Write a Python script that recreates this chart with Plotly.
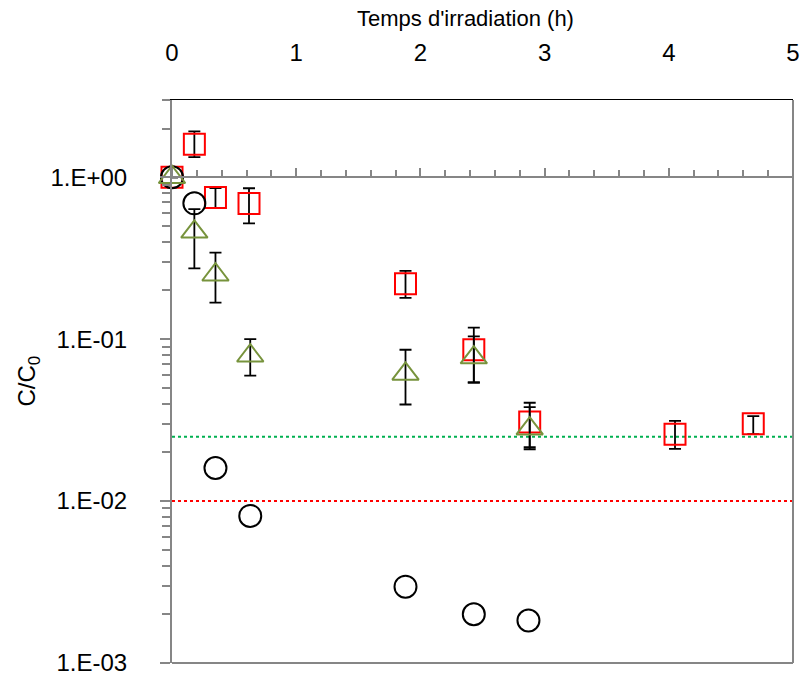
import numpy as np
import plotly.graph_objects as go

# données
t_circ = [0, 0.18, 0.35, 0.63, 1.88, 2.43, 2.87]
c_circ = [1.0, 0.69, 0.016, 0.0081, 0.00296, 0.0020, 0.00183]

t_tri = [0, 0.18, 0.35, 0.63, 1.88, 2.43, 2.88]
c_tri = [1.0, 0.46, 0.25, 0.079, 0.061, 0.077, 0.028]
tri_hi = [1.0, 0.636, 0.342, 0.100, 0.086, 0.104, 0.038]
tri_lo = [1.0, 0.274, 0.168, 0.0596, 0.0395, 0.054, 0.0215]

t_sq = [0, 0.18, 0.35, 0.62, 1.88, 2.43, 2.88, 4.05, 4.68]
c_sq = [1.0, 1.6, 0.75, 0.689, 0.22, 0.086, 0.0308, 0.0259, 0.0300]
sq_hi = [1.0, 1.92, 0.856, 0.855, 0.264, 0.118, 0.0405, 0.0313, 0.0335]
sq_lo = [1.0, 1.33, 0.645, 0.519, 0.18, 0.054, 0.0209, 0.021, 0.0259]

limite_verte = 0.025
limite_rouge = 0.01

x_ticks = [0, 1, 2, 3, 4, 5]
y_major = [1e-3, 1e-2, 1e-1, 1]
y_labels = ["1.E-03", "1.E-02", "1.E-01", "1.E+00"]
y_range = [-3, np.log10(3)]

y_minor = [m * 10.0 ** d for d in [-3, -2, -1] for m in range(2, 10)] + [2, 3]

FONT = "Liberation Sans, Arial, sans-serif"
GRAY = "#868686"


def err(y, hi, lo):
    return dict(type="data", symmetric=False,
                array=[h - v for h, v in zip(hi, y)],
                arrayminus=[v - l for v, l in zip(y, lo)],
                color="black", thickness=1.8, width=6)


fig = go.Figure()

for yv, col in [(limite_verte, "#00B050"), (limite_rouge, "#FF0000")]:
    fig.add_trace(go.Scatter(x=[0, 5], y=[yv, yv], mode="lines",
                             line=dict(color=col, width=2, dash="dot"),
                             showlegend=False, hoverinfo="skip"))

fig.add_trace(go.Scatter(
    x=t_sq, y=c_sq, mode="markers", error_y=err(c_sq, sq_hi, sq_lo), cliponaxis=False,
    marker=dict(symbol="square-open", size=21, color="#FF0000", line=dict(width=2)),
    showlegend=False))

fig.add_trace(go.Scatter(
    x=t_circ, y=c_circ, mode="markers", cliponaxis=False,
    marker=dict(symbol="circle-open", size=22, color="black", line=dict(width=2)),
    showlegend=False))

fig.add_trace(go.Scatter(
    x=t_tri, y=c_tri, mode="markers", error_y=err(c_tri, tri_hi, tri_lo), cliponaxis=False,
    marker=dict(symbol="triangle-up-open", size=23, color="#77933C", line=dict(width=2)),
    showlegend=False))

# position de l'axe x qui croise en y = 1
pos_cross = (0 - y_range[0]) / (y_range[1] - y_range[0])

fig.update_layout(
    width=803, height=677,
    margin=dict(l=172, r=10, t=100, b=14),
    plot_bgcolor="white", paper_bgcolor="white",
    font=dict(family=FONT, size=24, color="black"),
    xaxis=dict(
        range=[0, 5], side="top", tickvals=x_ticks, ticks="",
        ticklabelstandoff=28, showgrid=False, zeroline=False, automargin=False,
        showline=True, linecolor="black", linewidth=1,
    ),
    xaxis2=dict(
        range=[0, 5], overlaying="x", matches="x", anchor="free", position=pos_cross,
        side="top", tickvals=x_ticks, showticklabels=False, ticks="outside",
        ticklen=8, tickwidth=2, tickcolor=GRAY, showline=True, linecolor=GRAY,
        linewidth=2, showgrid=False, zeroline=False, automargin=False,
        minor=dict(dtick=0.2, ticks="outside", ticklen=6, tickwidth=1.5, tickcolor=GRAY),
    ),
    yaxis=dict(
        type="log", range=y_range, tickvals=y_major, ticktext=y_labels,
        ticks="outside", ticklen=10, tickwidth=2, tickcolor=GRAY,
        showline=True, linecolor=GRAY, linewidth=2, showgrid=False, zeroline=False,
        ticklabelstandoff=28, automargin=False,
        minor=dict(tickvals=y_minor, ticks="outside", ticklen=8, tickwidth=1.5, tickcolor=GRAY),
    ),
    shapes=[
        dict(type="line", xref="paper", yref="paper", x0=0, x1=1, y0=0, y1=0,
             line=dict(color=GRAY, width=2)),
        dict(type="line", xref="paper", yref="paper", x0=1, x1=1, y0=0, y1=1,
             line=dict(color=GRAY, width=2)),
    ],
    annotations=[
        dict(text="Temps d'irradiation (h)", xref="paper", yref="paper",
             x=0.472, y=1, yshift=82, xanchor="center", yanchor="middle",
             showarrow=False, font=dict(size=22)),
        dict(text="C/C<sub>0</sub>", xref="paper", yref="paper",
             x=0, y=0.5, xshift=-144, xanchor="center", yanchor="middle",
             textangle=-90, showarrow=False, font=dict(size=24)),
    ],
)

fig.add_trace(go.Scatter(x=[None], y=[None], xaxis="x2", showlegend=False))

# pas de marge autour de la figure dans la page
fig.write_html("out.html", config={"displayModeBar": False},
               post_script="document.body.style.margin = '0';")
